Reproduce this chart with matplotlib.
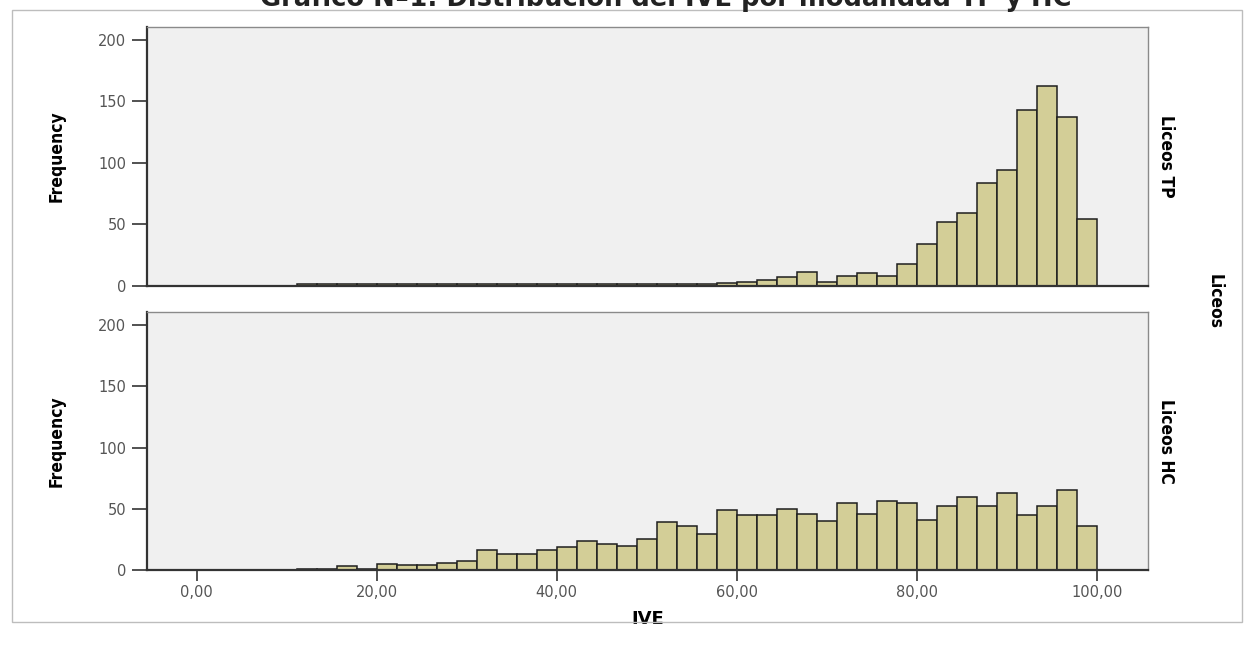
import numpy as np
import matplotlib
matplotlib.use('Agg')
import matplotlib.pyplot as plt
from matplotlib.patches import Rectangle

plt.rcParams['font.family'] = ['DejaVu Sans']

# IVE histogram, 45 bins of equal width between 0 and 100
ive_min = 0
ive_max = 100
n_bins = 45

freq_tp = [0, 0, 0, 0, 0, 1, 1, 1, 1, 1, 1, 1, 1, 1, 1, 1, 1, 1, 1, 1, 1, 1, 1,
           1, 1, 1, 2, 3, 5, 7, 11, 3, 8, 10, 8, 18, 34, 52, 59, 84, 94, 143,
           163, 137, 54]
freq_hc = [0, 0, 0, 0, 0, 1, 1, 3, 1, 5, 4, 4, 6, 7, 16, 13, 13, 16, 19, 24, 21,
           20, 25, 39, 36, 29, 49, 45, 45, 50, 46, 40, 55, 46, 56, 55, 41, 52,
           60, 52, 63, 45, 52, 65, 36]

panels = ['Liceos TP', 'Liceos HC']
xticks = [0, 20, 40, 60, 80, 100]
xtick_labels = ['0,00', '20,00', '40,00', '60,00', '80,00', '100,00']
yticks = [0, 50, 100, 150, 200]

bar_color = '#d3ce97'
W, H = 1256, 647

fig = plt.figure(figsize=(W / 100, H / 100), dpi=100)

# outer frame of the chart
fig.patches.append(Rectangle((12 / W, 1 - 622 / H), 1230 / W, 612 / H,
                             transform=fig.transFigure, fill=False,
                             edgecolor='#bdbdbd', lw=1))

# title, cut off by the top of the image as in the original
fig.text(666 / W, 1 - 6 / H, 'Gráfico Nº1: Distribución del IVE por modalidad TP y HC',
         ha='center', va='baseline', fontsize=18.5, fontweight='bold', color='#222222')

left, right = 147 / W, 1148 / W
boxes = [(1 - 285.7 / H, 1 - 27.3 / H), (1 - 570 / H, 1 - 312.3 / H)]

edges = np.linspace(ive_min, ive_max, n_bins + 1)
width = edges[1] - edges[0]

axes = []
for i, (freq, name) in enumerate(zip([freq_tp, freq_hc], panels)):
    b, t = boxes[i]
    ax = fig.add_axes([left, b, right - left, t - b])
    ax.set_facecolor('#f0f0f0')
    ax.bar(edges[:-1], freq, width=width, align='edge', color=bar_color,
           edgecolor='#1e1e1e', linewidth=1.1, zorder=2)
    ax.set_xlim(-5.5, 105.7)
    ax.set_ylim(0, 210.4)
    ax.set_yticks(yticks)
    ax.tick_params(axis='y', direction='out', length=11, width=1.2,
                   color='#333333', labelsize=10.5, labelcolor='#555555', pad=4)
    for s in ['top', 'right']:
        ax.spines[s].set_color('#8a8a8a')
        ax.spines[s].set_linewidth(1)
    for s in ['left', 'bottom']:
        ax.spines[s].set_color('#333333')
        ax.spines[s].set_linewidth(1.6)
    ax.set_ylabel('Frequency', fontsize=12.5, fontweight='bold', stretch='condensed')
    ax.yaxis.set_label_coords(-0.081, 0.5)
    ax.text(1.018, 0.5, name, transform=ax.transAxes, rotation=-90,
            ha='center', va='center', fontsize=12.5, fontweight='bold',
            stretch='condensed')
    axes.append(ax)

axes[0].set_xticks([])
axes[1].set_xticks(xticks)
axes[1].set_xticklabels(xtick_labels)
axes[1].tick_params(axis='x', direction='out', length=8, width=1.2,
                    color='#333333', labelsize=10.5, labelcolor='#555555', pad=3)
axes[1].set_xlabel('IVE', fontsize=13, fontweight='bold', labelpad=7)

fig.text(1215 / W, 1 - 302 / H, 'Liceos', rotation=-90, ha='center', va='center',
         fontsize=12.5, fontweight='bold', stretch='condensed')

plt.savefig('out.png', dpi=100)
